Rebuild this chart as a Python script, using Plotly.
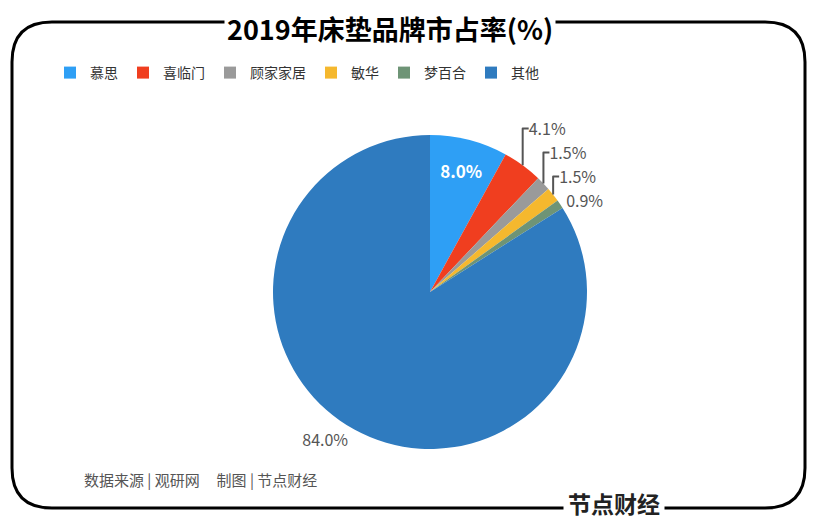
import plotly.graph_objects as go

# === Data ===
brands = ["慕思", "喜临门", "顾家家居", "敏华", "梦百合", "其他"]
shares = [8.0, 4.1, 1.5, 1.5, 0.9, 84.0]
colors = ["#2E9FF5", "#F03E1F", "#9A9A9A", "#F5B82E", "#6E9476", "#2F7BBF"]

# page body has an 8px margin, so the figure is drawn 8px in from the corner
OFF = 8
W, H = 816 - 2 * OFF, 529 - 2 * OFF

def px(x):
    return (x - OFF) / W

def py(y):
    return 1 - (y - OFF) / H

fig = go.Figure()

fig.add_trace(go.Pie(
    labels=brands, values=shares,
    sort=False, direction="clockwise", rotation=0,
    marker=dict(colors=colors, line=dict(width=0)),
    texttemplate=["<b>8.0%</b>"] + [f"{v:.1f}%" for v in shares[1:]],
    textposition=["inside", "outside", "outside", "outside", "outside", "outside"],
    insidetextfont=dict(color="white", size=17, family="Noto Sans CJK SC"),
    outsidetextfont=dict(color="#555", size=16, family="Noto Sans CJK SC"),
    domain=dict(x=[px(273), px(587)], y=[py(449), py(135)]),
    hoverinfo="label+percent",
    showlegend=True,
))

# rounded frame (paper coords)
r = 40
x0, x1, y0, y1 = 12, 805, 22, 508
pts = [("M", x0 + r, y0), ("L", x1 - r, y0), ("Q", x1, y0, x1, y0 + r), ("L", x1, y1 - r),
       ("Q", x1, y1, x1 - r, y1), ("L", x0 + r, y1), ("Q", x0, y1, x0, y1 - r),
       ("L", x0, y0 + r), ("Q", x0, y0, x0 + r, y0)]
path = ""
for p in pts:
    coords = p[1:]
    s = " ".join(f"{px(coords[i])},{py(coords[i+1])}" for i in range(0, len(coords), 2))
    path += f"{p[0]} {s} "
path += "Z"
fig.add_shape(type="path", path=path, xref="paper", yref="paper",
              line=dict(color="black", width=3), layer="below")

fig.update_layout(
    width=W, height=H,
    margin=dict(l=0, r=0, t=0, b=0),
    paper_bgcolor="white", plot_bgcolor="white",
    font=dict(family="Noto Sans CJK SC", color="#333"),
    xaxis=dict(visible=False), yaxis=dict(visible=False),
    legend=dict(orientation="h", x=px(50), y=py(73), yanchor="middle",
                font=dict(size=14, color="#333")),
    annotations=[
        dict(x=px(390), y=py(28), xref="paper", yref="paper", showarrow=False,
             yanchor="middle", text="<b>2019年床垫品牌市占率(%)</b>", bgcolor="white",
             font=dict(size=27, color="black"), borderpad=2),
        dict(x=px(82), y=py(479), xref="paper", yref="paper", showarrow=False,
             xanchor="left", yanchor="middle",
             text="数据来源 | 观研网     制图 | 节点财经",
             font=dict(size=15, color="#555")),
        dict(x=px(665), y=py(503), xref="paper", yref="paper", showarrow=False,
             yanchor="middle", text="<b>节点财经</b>", bgcolor="white",
             font=dict(size=23, color="#222"), borderpad=4),
    ],
)

fig.write_html("out.html")
